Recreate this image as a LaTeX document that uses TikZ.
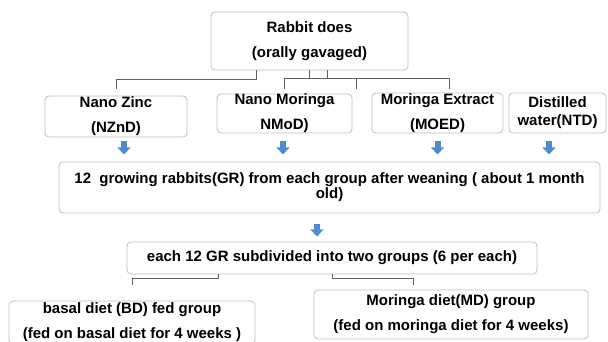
\documentclass[tikz,border=0pt]{standalone}
\usepackage{fontspec}
\setmainfont{Liberation Sans}
\usetikzlibrary{arrows.meta, positioning}
\definecolor{boxline}{RGB}{191,191,191}
\definecolor{linkgray}{RGB}{96,96,96}
\definecolor{arrowblue}{RGB}{79,139,208}

\begin{document}
\begin{tikzpicture}[
    x=1pt, y=-1pt,
    box/.style={rectangle, draw=boxline, line width=0.8pt, rounded corners=4pt, inner sep=0pt, align=center, font=\bfseries\fontsize{15}{25}\selectfont},
    link/.style={draw=linkgray, line width=0.9pt},
    blockarrow/.style={draw=arrowblue, line width=6pt, -{Triangle[width=13pt, length=7pt]}}
]
\useasboundingbox (0,0) rectangle (608,342);
\clip (0,0) rectangle (608,342);

\node[box, minimum width=197pt, minimum height=58pt] (does) at (309.5,41) {Rabbit does\\(orally gavaged)};

\node[box, minimum width=142pt, minimum height=41pt] (nz) at (116,116.5) {Nano Zinc\\(NZnD)};
\node[box, minimum width=135pt, minimum height=39pt] (nm) at (284.5,113.5) {Nano Moringa\\NMoD)};
\node[box, minimum width=131pt, minimum height=40pt] (me) at (437.5,113) {Moringa Extract\\(MOED)};
\node[box, minimum width=97pt, minimum height=40pt, font=\bfseries\fontsize{15}{18}\selectfont] (dw) at (557.5,113) {Distilled\\water(NTD)};

\node[box, minimum width=541pt, minimum height=51pt, font=\bfseries\fontsize{15}{15}\selectfont] (gr) at (329.5,187.5) {12~ growing rabbits(GR) from each group after weaning ( about 1 month\\old)};

\node[box, minimum width=410pt, minimum height=32pt] (split) at (332,258) {each 12 GR subdivided into two groups (6 per each)};

\node[box, minimum width=246pt, minimum height=43pt] (bd) at (132,322.5) {basal diet (BD) fed group\\(fed on basal diet for 4 weeks )};
\node[box, minimum width=274pt, minimum height=49pt] (md) at (451,314.5) {Moringa diet(MD) group\\(fed on moringa diet for 4 weeks)};

\draw[link] ([xshift=-53.5pt]does.south) -- ++(0,9) -| ([yshift=7pt]nz.north);
\draw[link] ([xshift=-0.5pt]does.south) -- ++(0,9);
\draw[link] ([xshift=17.5pt]does.south) -- ++(0,9);
\draw[link] ([yshift=5pt]nm.north) -- ++(0,-10) -- ++(165,0) -- ++(0,10);
\draw[link] ([xshift=71.5pt, yshift=5pt]nm.north) -- ++(0,-10);

\draw[blockarrow] ([xshift=8pt, yshift=-4pt]nz.south) -- ++(0,13);
\draw[blockarrow] ([xshift=-1.5pt, yshift=-8pt]nm.south) -- ++(0,13);
\draw[blockarrow] ([yshift=-8pt]me.south) -- ++(0,13);
\draw[blockarrow] ([xshift=-8.5pt, yshift=-8pt]dw.south) -- ++(0,13);
\draw[blockarrow] ([xshift=-12.5pt, yshift=-11pt]gr.south) -- ++(0,12);

\draw[link] ([xshift=-114pt]split.south) -- ++(0,4) -| ([yshift=16pt]bd.north);
\draw[link] (split.south) -- ++(0,4) -| ([xshift=-38pt, yshift=5pt]md.north);
\end{tikzpicture}
\end{document}
